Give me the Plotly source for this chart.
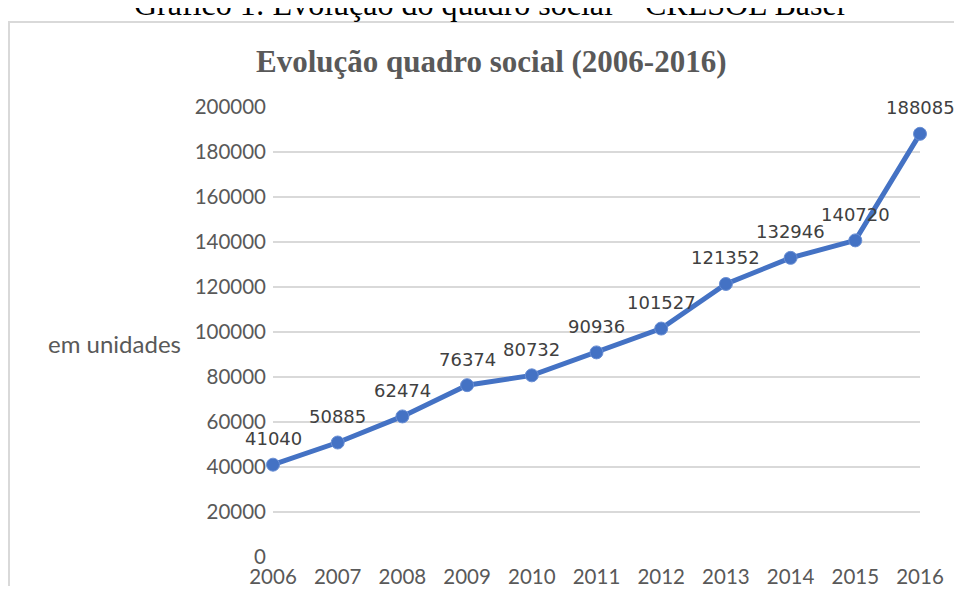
import plotly.graph_objects as go

years = [2006, 2007, 2008, 2009, 2010, 2011, 2012, 2013, 2014, 2015, 2016]
members = [41040, 50885, 62474, 76374, 80732, 90936, 101527, 121352, 132946, 140720, 188085]
y_ticks = [0, 20000, 40000, 60000, 80000, 100000, 120000, 140000, 160000, 180000, 200000]

OFF = 8  # default page body margin
W, H = 946, 578
# plot area in reference-window pixels
PL, PR, PT, PB = 273, 920, 107, 557
L, T = PL - OFF, PT - OFF
R = W - (PR - OFF)
B = H - (PB - OFF)
pw, ph = W - L - R, H - T - B

def px(x):
    return (x - OFF - L) / pw

def py(y):
    return (PB - y) / ph

fig = go.Figure()
fig.add_trace(go.Scatter(
    x=years, y=members, mode="lines+markers",
    line=dict(color="#4472C4", width=5),
    marker=dict(color="#4472C4", size=13, line=dict(color="#6a8fd4", width=1)),
    cliponaxis=False, showlegend=False,
))

ann = [dict(x=yr, y=v, text=str(v), showarrow=False, xref="x", yref="y",
            yshift=26, xanchor="center", yanchor="middle",
            font=dict(family="DejaVu Sans", size=18, color="#404040"))
       for yr, v in zip(years, members)]

ann += [
    dict(text="<b>Evolução quadro social (2006-2016)</b>", xref="paper", yref="paper",
         x=px(491), y=py(62), showarrow=False, xanchor="center", yanchor="middle",
         font=dict(family="Liberation Serif", size=31, color="#595959")),
    dict(text="em unidades", xref="paper", yref="paper",
         x=px(114), y=py(343), showarrow=False, xanchor="center", yanchor="middle",
         font=dict(family="Lato", size=24, color="#595959")),
    dict(text="Gráfico 1: Evolução do quadro social – CRESOL Baser", xref="paper", yref="paper",
         x=px(491), y=py(24), showarrow=False, xanchor="center", yanchor="bottom",
         font=dict(family="Liberation Serif", size=32, color="black")),
]

fig.update_layout(
    width=W, height=H,
    margin=dict(l=L, r=R, t=T, b=B, autoexpand=False),
    paper_bgcolor="white", plot_bgcolor="white",
    xaxis=dict(range=[2006, 2016], tickvals=years, ticktext=[str(y) for y in years],
               showgrid=False, zeroline=False, showline=False, ticks="", automargin=False,
               tickfont=dict(family="Lato", size=20.5, color="#595959"), ticklabelstandoff=5),
    yaxis=dict(range=[0, 200000], tickvals=y_ticks, ticktext=[str(v) for v in y_ticks],
               showgrid=True, gridcolor="#d9d9d9", gridwidth=2, zeroline=False,
               showline=False, ticks="", automargin=False,
               tickfont=dict(family="Lato", size=20.5, color="#595959"), ticklabelstandoff=6),
    shapes=[dict(type="rect", xref="paper", yref="paper",
                 x0=px(9), x1=px(990), y0=py(22), y1=py(620),
                 line=dict(color="#d9d9d9", width=2), fillcolor="rgba(0,0,0,0)", layer="below")],
    annotations=ann,
)

fig.write_html("out.html")
